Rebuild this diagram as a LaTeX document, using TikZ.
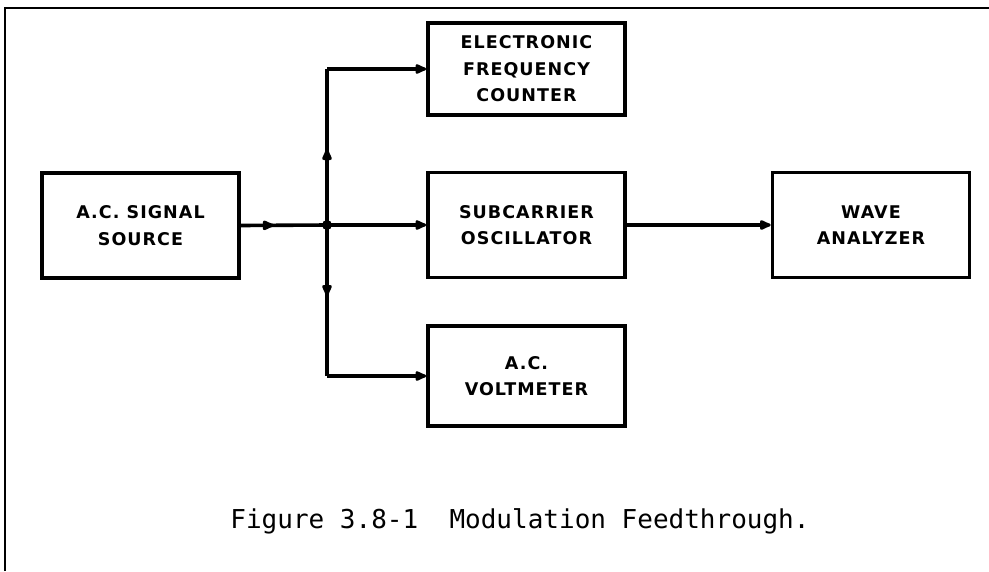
\documentclass[tikz,border=0pt]{standalone}
\usepackage{fontspec}
\newfontfamily\boxfont[LetterSpace=6]{DejaVu Sans}
\newfontfamily\capfont{DejaVu Sans Mono}
\usetikzlibrary{arrows.meta,decorations.markings}
\begin{document}
\begin{tikzpicture}[x=1pt,y=-1pt,
  blk/.style={draw,line width=3.6pt,minimum width=197pt,inner sep=0pt,align=center,
    font=\boxfont\bfseries\fontsize{17.5}{26.5}\selectfont},
  wire/.style={line width=3.6pt},
  tipped/.style={-{Latex[length=15pt,width=12pt,round]}},
  midarrow/.style={postaction={decorate},decoration={markings,
    mark=at position #1 with {\arrow{Latex[length=16pt,width=12pt,round]}}}},
  frame/.style={line width=1.8pt}
]
\useasboundingbox (0,0) rectangle (989,571);
\draw[frame] (5,571) -- (5,8) -- (989,8);

\node[blk,minimum height=105pt] (src) at (140.5,225.5) {A.C. SIGNAL\\SOURCE};
\node[blk,minimum height=105pt] (sco) at (526.5,225) {SUBCARRIER\\OSCILLATOR};
\node[blk,minimum height=105pt] (wav) at (871,225) {WAVE\\ANALYZER};
\node[blk,minimum height=92pt] (efc) at (526.5,69) {ELECTRONIC\\FREQUENCY\\COUNTER};
\node[blk,minimum height=100pt] (acv) at (526.5,376) {A.C.\\VOLTMETER};

\coordinate (j) at (327,225);
\fill (j) circle (5pt);

\draw[wire,midarrow=33pt] (src.east) -- (j);
\draw[wire,tipped] (j) -- (sco.west);
\draw[wire,midarrow=76pt] (j) -- (j |- efc.west);
\draw[wire,tipped] (j |- efc.west) -- (efc.west);
\draw[wire,midarrow=71pt] (j) -- (j |- acv.west);
\draw[wire,tipped] (j |- acv.west) -- (acv.west);
\draw[wire,tipped] (sco.east) -- (wav.west);

\node[font=\capfont\fontsize{26}{26}\selectfont] (cap) at (520,521) {Figure 3.8-1\ \ Modulation Feedthrough.};
\end{tikzpicture}
\end{document}
